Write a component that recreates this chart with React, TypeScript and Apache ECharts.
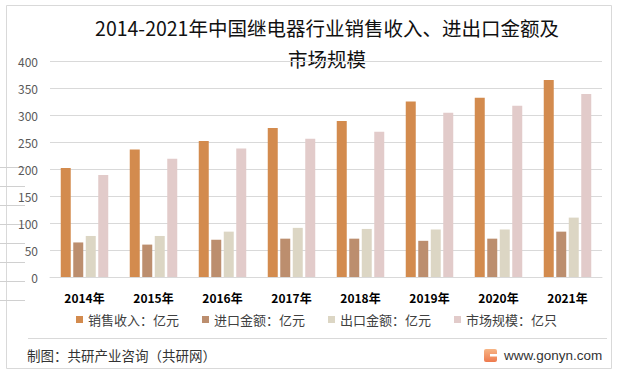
import React, { useEffect, useRef } from "react";
import * as echarts from "echarts";

const years = ["2014年", "2015年", "2016年", "2017年", "2018年", "2019年", "2020年", "2021年"];
const salesRevenue = [202, 236, 252, 276, 289, 325, 332, 365];
const importAmount = [64, 60, 69, 71, 71, 67, 71, 84];
const exportAmount = [76, 76, 84, 91, 89, 88, 88, 110];
const marketSize = [189, 219, 238, 256, 269, 304, 317, 339];
const seriesNames = ["销售收入：亿元", "进口金额：亿元", "出口金额：亿元", "市场规模：亿只"];
const colors = ["#D38B4E", "#BC8E6E", "#DCD6C4", "#E2CBCA"];

const titleLine1 = "2014-2021年中国继电器行业销售收入、进出口金额及";
const titleLine2 = "市场规模";
const footerLeft = "制图：共研产业咨询（共研网）";
const footerRight = "www.gonyn.com";

const FONT = "'Noto Sans CJK SC', 'Noto Sans', sans-serif";

export default function App() {
  const ref = useRef<HTMLDivElement>(null);
  useEffect(() => {
    if (!ref.current) return;
    const chart = echarts.init(ref.current, null, { renderer: "svg" });
    const dataSets = [salesRevenue, importAmount, exportAmount, marketSize];
    const sheetLines = [167, 186, 205, 224, 243, 262, 281, 300].map((y) => ({
      type: "line",
      shape: { x1: 0, y1: y + 0.5, x2: 25, y2: y + 0.5 },
      style: { stroke: "#D0D0D0", lineWidth: 1 },
      silent: true,
    }));
    chart.setOption({
      animation: false,
      backgroundColor: "#ffffff",
      textStyle: { fontFamily: FONT },
      grid: { left: 50, right: 15, top: 61, bottom: 97, containLabel: false },
      legend: {
        data: seriesNames,
        left: 76,
        top: 313,
        padding: 0,
        itemWidth: 7,
        itemHeight: 7,
        itemGap: 23,
        icon: "rect",
        textStyle: { fontSize: 13, color: "#404040", fontFamily: FONT },
      },
      xAxis: {
        type: "category",
        data: years,
        axisTick: { show: false },
        axisLine: { lineStyle: { color: "#D9D9D9" } },
        axisLabel: {
          fontSize: 12,
          fontWeight: "bold",
          color: "#000000",
          margin: 14,
          fontFamily: FONT,
        },
      },
      yAxis: {
        type: "value",
        min: 0,
        max: 400,
        interval: 50,
        axisLine: { show: false },
        axisTick: { show: false },
        splitLine: { lineStyle: { color: "#D9D9D9" } },
        axisLabel: { fontSize: 12, color: "#595959", margin: 12, fontFamily: FONT },
      },
      series: dataSets.map((d, i) => ({
        name: seriesNames[i],
        type: "bar",
        data: d,
        barWidth: 10,
        barGap: "25%",
        itemStyle: { color: colors[i] },
      })),
      graphic: [
        {
          type: "rect",
          shape: { x: 6.5, y: 5.5, width: 605, height: 363 },
          style: { fill: "none", stroke: "#D9D9D9", lineWidth: 1 },
          silent: true,
          z: -1,
        },
        ...sheetLines,
        {
          type: "text",
          x: 327,
          y: 27,
          style: {
            text: titleLine1,
            fontSize: 19.5,
            fill: "#111111",
            fontFamily: FONT,
            align: "center",
            verticalAlign: "middle",
          },
        },
        {
          type: "text",
          x: 327,
          y: 58,
          style: {
            text: titleLine2,
            fontSize: 19.5,
            fill: "#111111",
            fontFamily: FONT,
            align: "center",
            verticalAlign: "middle",
          },
        },
        {
          type: "line",
          shape: { x1: 28, y1: 338.5, x2: 607, y2: 338.5 },
          style: { stroke: "#D9D9D9", lineWidth: 1 },
        },
        {
          type: "text",
          x: 27,
          y: 355,
          style: {
            text: footerLeft,
            fontSize: 13.5,
            fill: "#333333",
            fontFamily: FONT,
            align: "left",
            verticalAlign: "middle",
          },
        },
        {
          type: "rect",
          shape: { x: 484, y: 349, width: 13, height: 13, r: 2 },
          style: {
            fill: new echarts.graphic.LinearGradient(0, 0, 0, 1, [
              { offset: 0, color: "#F7B585" },
              { offset: 1, color: "#EE7A4E" },
            ]),
          },
        },
        {
          type: "rect",
          shape: { x: 490, y: 354, width: 7, height: 2.5 },
          style: { fill: "#ffffff" },
        },
        {
          type: "text",
          x: 504,
          y: 355,
          style: {
            text: footerRight,
            fontSize: 13.5,
            fill: "#333333",
            fontFamily: "'Liberation Sans', Arial, sans-serif",
            align: "left",
            verticalAlign: "middle",
          },
        },
      ],
    });
    return () => chart.dispose();
  }, []);
  return (
    <div
      ref={ref}
      style={{ position: "fixed", left: 0, top: 0, width: 617, height: 374, background: "#fff" }}
    />
  );
}
